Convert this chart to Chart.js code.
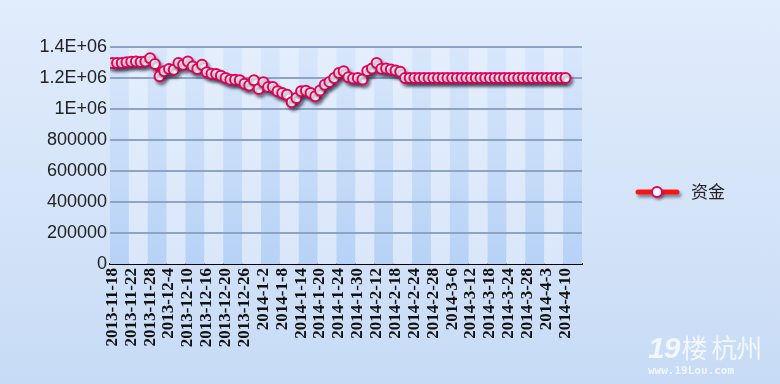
<!DOCTYPE html>
<html>
<head>
<meta charset="utf-8">
<script src="https://cdn.jsdelivr.net/npm/chart.js@4/dist/chart.umd.min.js"></script>
<style>
  html, body { margin: 0; padding: 0; }
  body { width: 780px; height: 384px; overflow: hidden; position: relative;
         background: linear-gradient(to bottom, #e1ecfc 0%, #d3e3f8 60%, #c7dbf6 100%); }
  #c { position: absolute; left: 0; top: 0; }
  .wm1 { position: absolute; left: 648px; top: 328px; font: italic bold 30px "Liberation Sans", sans-serif;
         color: rgba(255,255,255,0.75); letter-spacing: -1px; }
  .wm1 span { font: 26px "Noto Sans CJK SC", sans-serif; font-style: normal; margin-left: 2px; }
  .wm2 { position: absolute; left: 648px; top: 364px; font: bold 11px "DejaVu Sans Mono", monospace;
         color: rgba(255,255,255,0.75); }
</style>
</head>
<body>
<canvas id="c" width="780" height="384"></canvas>
<div class="wm1">19<span>楼 杭州</span></div>
<div class="wm2">www.19Lou.com</div>
<script>
// ---- data ----
const dates = ['2013-11-18','2013-11-19','2013-11-20','2013-11-21','2013-11-22','2013-11-25','2013-11-26','2013-11-27','2013-11-28','2013-11-29',
'2013-12-2','2013-12-3','2013-12-4','2013-12-5','2013-12-6','2013-12-9','2013-12-10','2013-12-11','2013-12-12','2013-12-13',
'2013-12-16','2013-12-17','2013-12-18','2013-12-19','2013-12-20','2013-12-23','2013-12-24','2013-12-25','2013-12-26','2013-12-27',
'2013-12-30','2013-12-31','2014-1-2','2014-1-3','2014-1-6','2014-1-7','2014-1-8','2014-1-9','2014-1-10','2014-1-13',
'2014-1-14','2014-1-15','2014-1-16','2014-1-17','2014-1-20','2014-1-21','2014-1-22','2014-1-23','2014-1-24','2014-1-27',
'2014-1-28','2014-1-29','2014-1-30','2014-2-7','2014-2-10','2014-2-11','2014-2-12','2014-2-13','2014-2-14','2014-2-17',
'2014-2-18','2014-2-19','2014-2-20','2014-2-21','2014-2-24','2014-2-25','2014-2-26','2014-2-27','2014-2-28','2014-3-3',
'2014-3-4','2014-3-5','2014-3-6','2014-3-7','2014-3-10','2014-3-11','2014-3-12','2014-3-13','2014-3-14','2014-3-17',
'2014-3-18','2014-3-19','2014-3-20','2014-3-21','2014-3-24','2014-3-25','2014-3-26','2014-3-27','2014-3-28','2014-3-31',
'2014-4-1','2014-4-2','2014-4-3','2014-4-4','2014-4-8','2014-4-9','2014-4-10'];

const funds = [1297000,1297000,1297000,1301000,1305000,1307000,1303000,1307000,1327000,1290000,
1211000,1243000,1258000,1254000,1297000,1286000,1307000,1275000,1258000,1286000,
1237000,1228000,1226000,1215000,1200000,1189000,1189000,1185000,1163000,1151000,
1185000,1129000,1172000,1142000,1142000,1114000,1103000,1092000,1043000,1071000,
1114000,1118000,1103000,1082000,1120000,1157000,1175000,1200000,1232000,1243000,
1205000,1196000,1200000,1190000,1245000,1262000,1297000,1260000,1262000,1255000,
1248000,1240000,1200000,1200000,1200000,1200000,1200000,1200000,1200000,1200000,
1200000,1200000,1200000,1200000,1200000,1200000,1200000,1200000,1200000,1200000,
1200000,1200000,1200000,1200000,1200000,1200000,1200000,1200000,1200000,1200000,
1200000,1200000,1200000,1200000,1200000,1200000,1200000];

const seriesName = '资金';
const xTickIndex = [0,4,8,12,16,20,24,28,32,36,40,44,48,52,56,60,64,68,72,76,80,84,88,92,96];
const yTickValues = [0,200000,400000,600000,800000,1000000,1200000,1400000];
const yTickLabels = ['0','200000','400000','600000','800000','1E+06','1.2E+06','1.4E+06'];

// ---- plugins ----
const bandPlugin = {
  id: 'bands',
  beforeDatasetsDraw(chart) {
    const {ctx, chartArea: a, scales: {x}} = chart;
    ctx.save();
    for (let k = 0; k < 25; k++) {
      const x0 = x.getPixelForValue(4 * k - 0.5);
      const x1 = x.getPixelForValue(4 * k + 3.5);
      const g = ctx.createLinearGradient(0, a.top, 0, a.bottom);
      if (k % 2 === 0) { g.addColorStop(0, '#d8e7fb'); g.addColorStop(1, '#b6d2f6'); }
      else { g.addColorStop(0, '#e4eefc'); g.addColorStop(1, '#dae7fa'); }
      ctx.fillStyle = g;
      ctx.fillRect(x0, a.top, x1 - x0, a.bottom - a.top);
    }
    const y = chart.scales.y;
    ctx.strokeStyle = '#8fa3c4';
    ctx.lineWidth = 2;
    yTickValues.forEach(v => {
      if (v === 0) return;
      const py = Math.round(y.getPixelForValue(v));
      ctx.beginPath(); ctx.moveTo(a.left, py); ctx.lineTo(a.right, py); ctx.stroke();
    });
    ctx.restore();
  }
};

const shadowPlugin = {
  id: 'shadow',
  beforeDatasetDraw(chart) {
    const ctx = chart.ctx;
    ctx.save();
    ctx.shadowColor = 'rgba(40,40,60,0.5)';
    ctx.shadowOffsetX = 2; ctx.shadowOffsetY = 3; ctx.shadowBlur = 3;
  },
  afterDatasetDraw(chart) { chart.ctx.restore(); }
};

const legendPlugin = {
  id: 'customLegend',
  afterDraw(chart) {
    const ctx = chart.ctx;
    const cy = 192;
    ctx.save();
    ctx.shadowColor = 'rgba(40,40,60,0.5)';
    ctx.shadowOffsetX = 2; ctx.shadowOffsetY = 3; ctx.shadowBlur = 3;
    ctx.strokeStyle = '#ff1414'; ctx.lineWidth = 5; ctx.lineCap = 'round';
    ctx.beginPath(); ctx.moveTo(638, cy); ctx.lineTo(677, cy); ctx.stroke();
    ctx.beginPath(); ctx.arc(657, cy, 5, 0, Math.PI * 2);
    ctx.fillStyle = '#fff'; ctx.fill();
    ctx.shadowColor = 'transparent';
    ctx.lineWidth = 2; ctx.strokeStyle = '#e5005b'; ctx.stroke();
    ctx.fillStyle = '#222';
    ctx.font = '17px "Noto Sans CJK SC", sans-serif';
    ctx.textBaseline = 'middle';
    ctx.fillText(seriesName, 691, cy);
    ctx.restore();
  }
};

new Chart(document.getElementById('c'), {
  type: 'line',
  data: {
    datasets: [{
      label: seriesName,
      data: funds.map((v, i) => ({x: i, y: v})),
      borderColor: '#ff1414',
      borderWidth: 4,
      pointRadius: 5,
      pointBorderWidth: 2,
      pointBorderColor: '#e5005b',
      pointBackgroundColor: '#ffffff',
      tension: 0
    }]
  },
  options: {
    responsive: false,
    devicePixelRatio: 1,
    animation: false,
    layout: { padding: { left: 0, top: 47, right: 198, bottom: 0 } },
    plugins: { legend: { display: false }, tooltip: { enabled: false } },
    scales: {
      x: {
        type: 'linear',
        min: -0.5, max: 99.5,
        afterBuildTicks: s => { s.ticks = xTickIndex.map(v => ({value: v})); },
        afterFit: s => { s.height = 120; },
        grid: { display: false, drawTicks: false },
        border: { display: true, color: '#000', width: 2 },
        ticks: {
          autoSkip: false, minRotation: 90, maxRotation: 90, padding: 4,
          color: '#111',
          font: { family: '"Liberation Serif", serif', size: 17, weight: 'bold' },
          callback: v => dates[v]
        }
      },
      y: {
        min: 0, max: 1400000,
        afterBuildTicks: s => { s.ticks = yTickValues.map(v => ({value: v})); },
        afterFit: s => { s.width = 110; },
        grid: { display: false, drawTicks: false },
        border: { display: false },
        ticks: {
          padding: 3, color: '#222',
          font: { family: '"Liberation Sans", sans-serif', size: 18 },
          callback: v => yTickLabels[yTickValues.indexOf(v)]
        }
      }
    }
  },
  plugins: [bandPlugin, shadowPlugin, legendPlugin]
});
</script>
</body>
</html>
